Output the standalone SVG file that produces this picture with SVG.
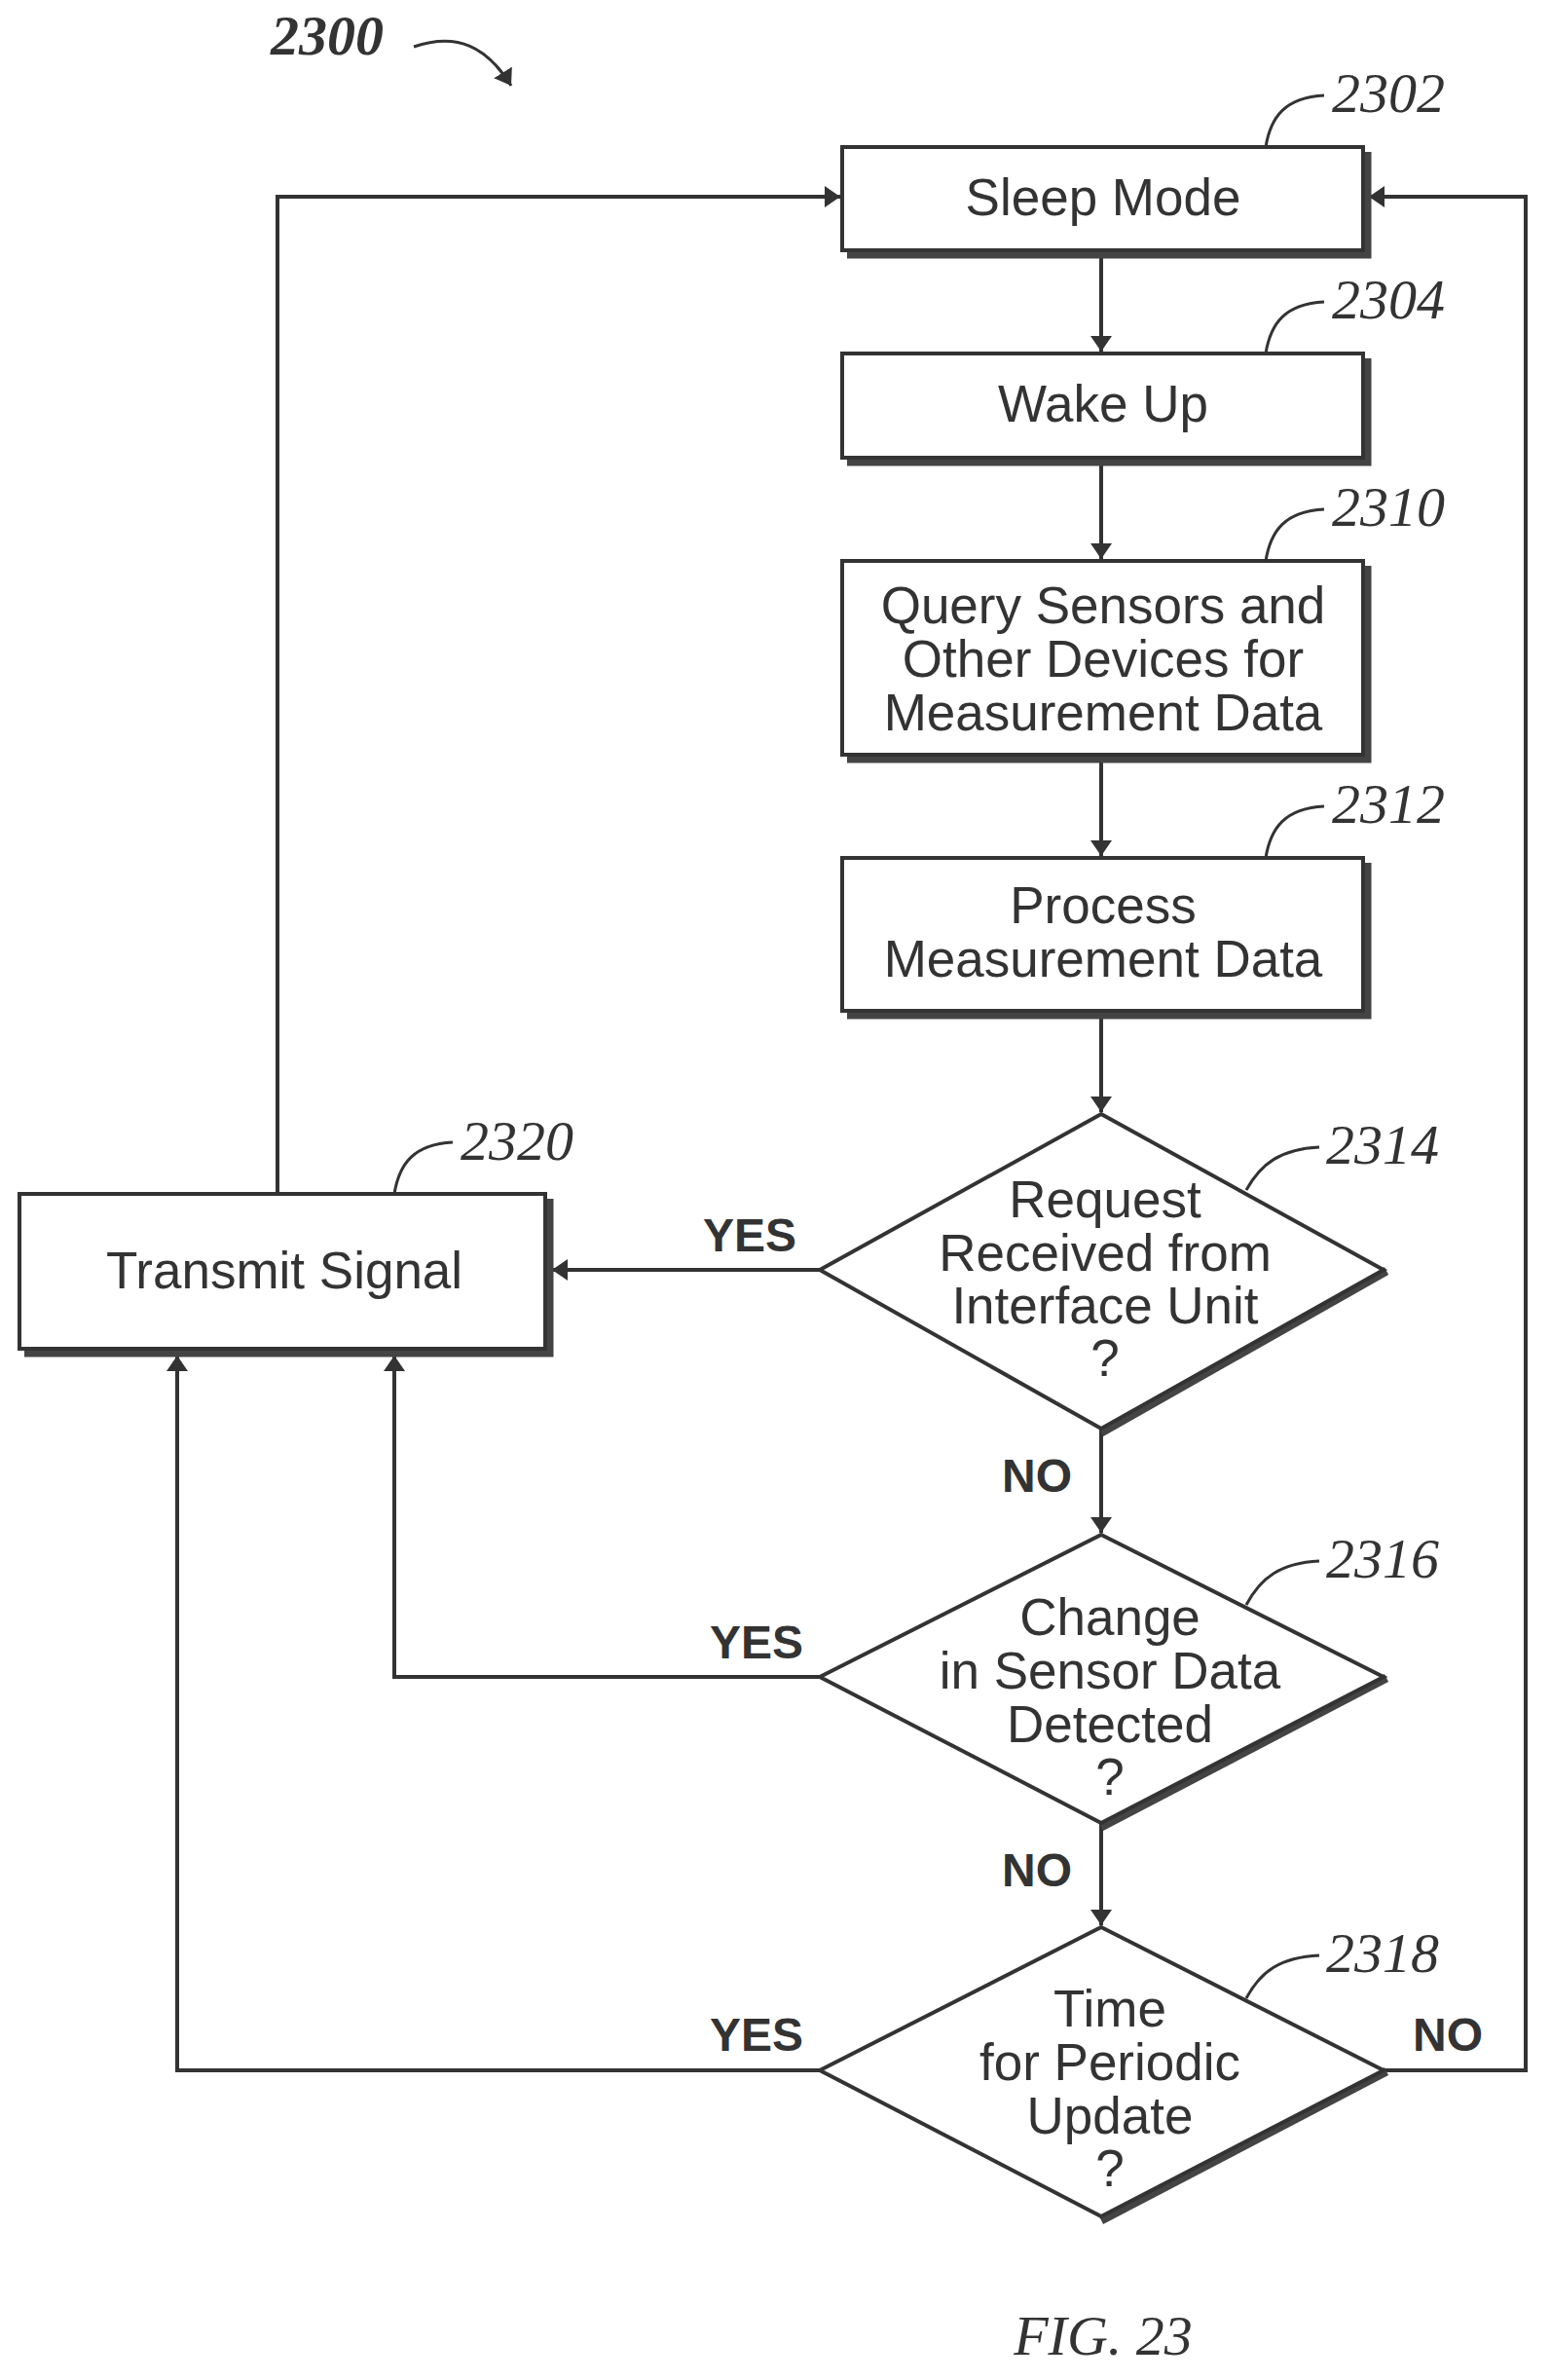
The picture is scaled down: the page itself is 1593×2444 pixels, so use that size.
<svg xmlns="http://www.w3.org/2000/svg" width="1593" height="2444" viewBox="0 0 1593 2444">
<defs>
<marker id="ah" markerWidth="16" markerHeight="22" refX="16" refY="11" orient="auto" markerUnits="userSpaceOnUse" viewBox="0 0 16 22"><path d="M0,0 L16,11 L0,22 z" fill="#333"/></marker>
</defs>
<style>
.box{fill:#fff;stroke:#333;stroke-width:4}
.sh{fill:none;stroke:#444;stroke-width:9}
.t{font-family:"Liberation Sans",Arial,sans-serif;font-size:53px;fill:#333;text-anchor:middle}
.lb{font-family:"Liberation Sans",Arial,sans-serif;font-size:48px;font-weight:bold;fill:#333;text-anchor:middle}
.ref{font-family:"Liberation Serif",serif;font-style:italic;font-size:58px;fill:#333}
.c{fill:none;stroke:#333;stroke-width:4}
.ld{fill:none;stroke:#333;stroke-width:3}
</style>
<rect width="1593" height="2444" fill="#fff"/>
<text class="ref" x="278" y="56" font-weight="bold">2300</text>
<path class="ld" d="M425,48 C470,33 500,48 525,88" marker-end="url(#ah)"/>
<g id="connectors">
<path class="c" d="M1131,257 V361" marker-end="url(#ah)"/>
<path class="c" d="M1131,470 V574" marker-end="url(#ah)"/>
<path class="c" d="M1131,775 V879" marker-end="url(#ah)"/>
<path class="c" d="M1131,1038 V1142" marker-end="url(#ah)"/>
<path class="c" d="M1131,1467 V1574" marker-end="url(#ah)"/>
<path class="c" d="M1131,1872 V1977" marker-end="url(#ah)"/>
<path class="c" d="M842,1304 H567" marker-end="url(#ah)"/>
<path class="c" d="M842,1722 H405 V1392" marker-end="url(#ah)"/>
<path class="c" d="M842,2126 H182 V1392" marker-end="url(#ah)"/>
<path class="c" d="M1421,2126 H1567 V202 H1406" marker-end="url(#ah)"/>
<path class="c" d="M285,1226 V202 H863" marker-end="url(#ah)"/>
<text class="lb" x="770" y="1285">YES</text>
<text class="lb" x="777" y="1703">YES</text>
<text class="lb" x="777" y="2106">YES</text>
<text class="lb" x="1065" y="1532">NO</text>
<text class="lb" x="1065" y="1937">NO</text>
<text class="lb" x="1487" y="2106">NO</text>
</g>
<g id="n2302">
<path class="sh" d="M1404,156 V261 H870"/>
<rect class="box" x="865" y="151" width="535" height="106"/>
<text class="t" x="1133" y="221">Sleep Mode</text>
<path class="ld" d="M1300,151 C1305,120 1320,100 1360,98"/>
<text class="ref" x="1368" y="115">2302</text>
</g>
<g id="n2304">
<path class="sh" d="M1404,368 V474 H870"/>
<rect class="box" x="865" y="363" width="535" height="107"/>
<text class="t" x="1133" y="433">Wake Up</text>
<path class="ld" d="M1300,363 C1305,332 1320,312 1360,310"/>
<text class="ref" x="1368" y="327">2304</text>
</g>
<g id="n2310">
<path class="sh" d="M1404,581 V779 H870"/>
<rect class="box" x="865" y="576" width="535" height="199"/>
<text class="t" x="1133" y="640">Query Sensors and</text>
<text class="t" x="1133" y="695">Other Devices for</text>
<text class="t" x="1133" y="750">Measurement Data</text>
<path class="ld" d="M1300,576 C1305,545 1320,525 1360,523"/>
<text class="ref" x="1368" y="540">2310</text>
</g>
<g id="n2312">
<path class="sh" d="M1404,886 V1042 H870"/>
<rect class="box" x="865" y="881" width="535" height="157"/>
<text class="t" x="1133" y="948">Process</text>
<text class="t" x="1133" y="1003">Measurement Data</text>
<path class="ld" d="M1300,881 C1305,850 1320,830 1360,828"/>
<text class="ref" x="1368" y="845">2312</text>
</g>
<g id="n2314">
<path class="sh" d="M1424,1305 L1131,1471"/>
<polygon class="box" points="1131,1144 1421,1304 1131,1467 842,1304"/>
<text class="t" x="1135" y="1250">Request</text>
<text class="t" x="1135" y="1305">Received from</text>
<text class="t" x="1135" y="1359">Interface Unit</text>
<text class="t" x="1135" y="1413">?</text>
<path class="ld" d="M1280,1222 C1295,1195 1315,1180 1355,1178"/>
<text class="ref" x="1362" y="1195">2314</text>
</g>
<g id="n2316">
<path class="sh" d="M1424,1723 L1131,1876"/>
<polygon class="box" points="1131,1576 1421,1722 1131,1872 842,1722"/>
<text class="t" x="1140" y="1679">Change</text>
<text class="t" x="1140" y="1734">in Sensor Data</text>
<text class="t" x="1140" y="1789">Detected</text>
<text class="t" x="1140" y="1843">?</text>
<path class="ld" d="M1280,1648 C1295,1620 1315,1605 1355,1603"/>
<text class="ref" x="1362" y="1620">2316</text>
</g>
<g id="n2318">
<path class="sh" d="M1424,2127 L1131,2280"/>
<polygon class="box" points="1131,1979 1421,2126 1131,2276 842,2126"/>
<text class="t" x="1140" y="2081">Time</text>
<text class="t" x="1140" y="2136">for Periodic</text>
<text class="t" x="1140" y="2191">Update</text>
<text class="t" x="1140" y="2245">?</text>
<path class="ld" d="M1280,2052 C1295,2024 1315,2010 1355,2008"/>
<text class="ref" x="1362" y="2025">2318</text>
</g>
<g id="n2320">
<path class="sh" d="M564,1231 V1389 H25"/>
<rect class="box" x="20" y="1226" width="540" height="159"/>
<text class="t" x="292" y="1323">Transmit Signal</text>
<path class="ld" d="M405,1226 C410,1195 425,1175 465,1173"/>
<text class="ref" x="473" y="1191">2320</text>
</g>
<text class="ref" x="1133" y="2418" text-anchor="middle" font-size="72">FIG. 23</text>
</svg>
